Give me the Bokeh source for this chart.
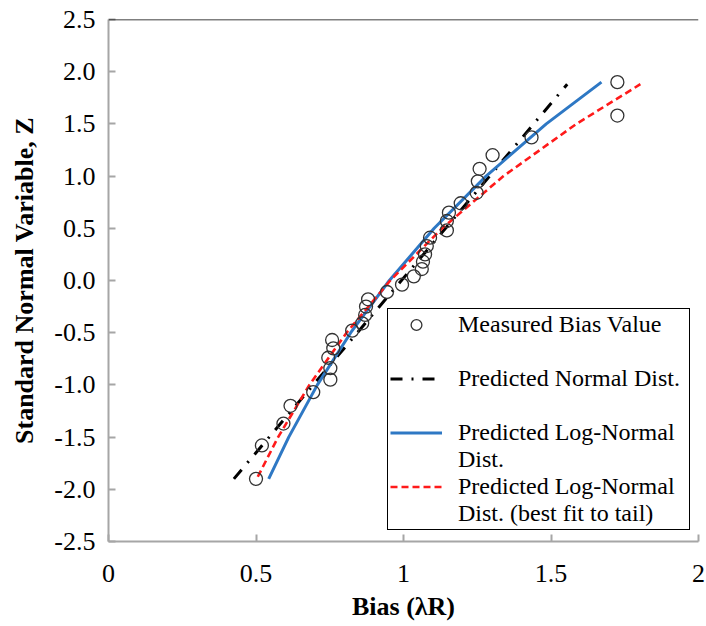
from bokeh.plotting import figure
from bokeh.models import FixedTicker, Legend, LegendItem, Range1d, Span
from bokeh.embed import file_html
from bokeh.resources import INLINE

# ---- data ----
bias_measured = [0.500, 0.520, 0.593, 0.617, 0.694, 0.752, 0.752, 0.745, 0.762, 0.758,
                 0.826, 0.860, 0.870, 0.873, 0.880, 0.944, 0.995, 1.035, 1.062, 1.066,
                 1.073, 1.079, 1.090, 1.147, 1.147, 1.154, 1.194, 1.248, 1.252, 1.258,
                 1.302, 1.434, 1.725, 1.725]
z_measured = [-1.90, -1.58, -1.37, -1.20, -1.07, -0.95, -0.84, -0.74, -0.65, -0.57,
              -0.48, -0.41, -0.33, -0.25, -0.18, -0.11, -0.04, 0.04, 0.11, 0.18,
              0.25, 0.33, 0.41, 0.48, 0.57, 0.65, 0.74, 0.84, 0.95, 1.07,
              1.20, 1.37, 1.58, 1.90]

normal_bias = [0.425, 1.555]
normal_z = [-1.90, 1.88]

lognormal_bias = [0.543, 0.611, 0.708, 0.821, 0.952, 1.104, 1.280, 1.484, 1.671]
lognormal_z = [-1.90, -1.50, -1.00, -0.50, 0.00, 0.50, 1.00, 1.50, 1.90]

tailfit_bias = [0.506, 0.575, 0.681, 0.807, 0.955, 1.131, 1.339, 1.586, 1.803]
tailfit_z = [-1.88, -1.50, -1.00, -0.50, 0.00, 0.50, 1.00, 1.50, 1.88]

x_ticks = [0, 0.5, 1, 1.5, 2]
x_tick_labels = ["0", "0.5", "1", "1.5", "2"]
y_ticks = [-2.5, -2.0, -1.5, -1.0, -0.5, 0.0, 0.5, 1.0, 1.5, 2.0, 2.5]
y_tick_labels = ["-2.5", "-2.0", "-1.5", "-1.0", "-0.5", "0.0", "0.5", "1.0", "1.5", "2.0", "2.5"]

FONT = "Liberation Serif"
AXIS_GRAY = "#a6a6a6"

p = figure(width=706, height=626, x_range=Range1d(0, 2), y_range=Range1d(-2.5, 2.5),
           output_backend="svg", toolbar_location=None,
           min_border_left=108, min_border_right=8, min_border_top=19, min_border_bottom=85)

p.grid.visible = False
p.outline_line_color = None
p.background_fill_color = "white"
p.border_fill_color = "white"
p.add_layout(Span(location=2.5, dimension="width", line_color="black", line_width=1.5))

r_norm = p.line(normal_bias, normal_z, line_color="black", line_width=3, line_dash="12 9 2 9")
r_logn = p.line(lognormal_bias, lognormal_z, line_color="#2e78c4", line_width=3)
r_tail = p.line(tailfit_bias, tailfit_z, line_color="#ff1a1a", line_width=2.6, line_dash="7 4")
r_meas = p.scatter(bias_measured, z_measured, marker="circle", size=13, fill_alpha=0,
                   line_color="#333333", line_width=1.3)
# invisible renderer used only for the continuation / spacing rows of the legend
r_blank = p.line(x=[], y=[], line_alpha=0)

for ax in (p.xaxis[0], p.yaxis[0]):
    ax.axis_line_color = AXIS_GRAY
    ax.axis_line_width = 2
    ax.major_tick_line_color = AXIS_GRAY
    ax.major_tick_line_width = 2
    ax.major_tick_in = 7
    ax.major_tick_out = 0
    ax.minor_tick_line_color = None
    ax.major_label_text_font = FONT
    ax.major_label_text_font_size = "26px"
    ax.major_label_text_color = "black"
    ax.axis_label_text_font = FONT
    ax.axis_label_text_font_size = "26px"
    ax.axis_label_text_font_style = "bold"
    ax.axis_label_text_color = "black"

p.xaxis.ticker = FixedTicker(ticks=x_ticks)
p.xaxis.major_label_overrides = {float(t): s for t, s in zip(x_ticks, x_tick_labels)}
p.xaxis.major_label_standoff = 23
p.xaxis.axis_label = "Bias (λR)"
p.xaxis.axis_label_standoff = 7

p.yaxis.ticker = FixedTicker(ticks=y_ticks)
p.yaxis.major_label_overrides = {float(t): s for t, s in zip(y_ticks, y_tick_labels)}
p.yaxis.major_label_standoff = 13
p.yaxis.axis_label = "Standard Normal Variable, Z"
p.yaxis.axis_label_standoff = 12

legend = Legend(items=[
    LegendItem(label="Measured Bias Value", renderers=[r_meas]),
    LegendItem(label=" ", renderers=[r_blank]),
    LegendItem(label="Predicted Normal Dist.", renderers=[r_norm]),
    LegendItem(label=" ", renderers=[r_blank]),
    LegendItem(label="Predicted Log-Normal", renderers=[r_logn]),
    LegendItem(label="Dist.", renderers=[r_blank]),
    LegendItem(label="Predicted Log-Normal", renderers=[r_tail]),
    LegendItem(label="Dist. (best fit to tail)", renderers=[r_blank]),
], location=(279, 11), glyph_width=52, glyph_height=27, label_standoff=16,
    label_width=229, padding=2, spacing=0, margin=0,
    border_line_color="black", border_line_width=1.5,
    border_line_alpha=1, background_fill_color="white", background_fill_alpha=1,
    label_text_font=FONT, label_text_font_size="24px", label_text_color="black")
p.add_layout(legend)

open("out.html", "w").write(file_html(p, INLINE))
